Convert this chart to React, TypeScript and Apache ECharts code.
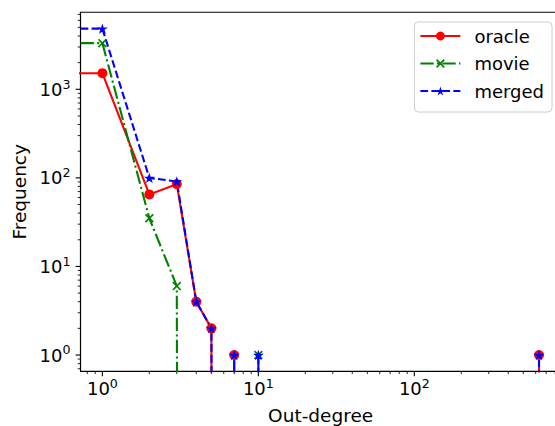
import React, { useEffect, useRef } from 'react';
import * as echarts from 'echarts';

// ---- data (degree histogram excerpt; the all-zero run 12..628 is omitted) ----
// degree 0 lies at log(0) = -inf, off the left edge; only its horizontal segment shows.
const degrees = [0, 1, 2, 3, 4, 5, 6, 7, 8, 9, 10, 11, 629, 630];
const oracleFreq = [1520, 1520, 65, 85, 4, 2, 0, 1, 0, 0, 0, 0, 0, 1];
const movieFreq = [3320, 3320, 35, 6, 0, 0, 0, 0, 0, 0, 1, 0, 0, 0];
const mergedFreq = [4840, 4840, 100, 91, 4, 2, 0, 1, 0, 0, 1, 0, 0, 1];
const seriesNames = ['oracle', 'movie', 'merged'];

const xMajorTicks = [1, 10, 100];
const xMinorTicks = [0.8, 0.9, 2, 3, 4, 5, 6, 7, 8, 9, 20, 30, 40, 50, 60, 70, 80, 90, 200, 300, 400, 500, 600, 700, 800];
const yMajorTicks = [1, 10, 100, 1000];
const yMinorTicks = [0.7, 0.8, 0.9, 2, 3, 4, 5, 6, 7, 8, 9, 20, 30, 40, 50, 60, 70, 80, 90, 200, 300, 400, 500, 600, 700, 800, 900, 2000, 3000, 4000, 5000, 6000, 7000];
const xLimits = [0.724, 869];
const yLimits = [0.655, 7400];
const xTitle = 'Out-degree';
const yTitle = 'Frequency';

const FONT = 'DejaVu Sans';
const TINY = 1e-100; // stands in for log(0): clipped far outside the plot

const starPts: string[] = [];
for (let i = 0; i < 10; i++) {
  const r = i % 2 === 0 ? 10 : 3.82;
  const a = -Math.PI / 2 + (i * Math.PI) / 5;
  starPts.push(`${(10 + r * Math.cos(a)).toFixed(3)} ${(10 + r * Math.sin(a)).toFixed(3)}`);
}
const STAR = 'path://M' + starPts.join(' L') + ' Z';
const CROSS = 'path://M0 1.3 L1.3 0 L5 3.7 L8.7 0 L10 1.3 L6.3 5 L10 8.7 L8.7 10 L5 6.3 L1.3 10 L0 8.7 L3.7 5 Z';

function toData(vals: number[]) {
  return degrees.map((d, i) => {
    const x = d > 0 ? d : TINY;
    const y = vals[i] > 0 ? vals[i] : TINY;
    return d > 0 && vals[i] > 0 ? { value: [x, y] } : { value: [x, y], symbolSize: 0 };
  });
}

function powLabel(v: number) {
  const e = Math.log10(v);
  if (Math.abs(e - Math.round(e)) > 1e-6) return '';
  return `{b|10}{s|${Math.round(e)}}`;
}

const richLabel = {
  b: { fontFamily: FONT, fontSize: 18, lineHeight: 18, color: '#000', verticalAlign: 'bottom' },
  s: { fontFamily: FONT, fontSize: 12.6, lineHeight: 12.6, color: '#000', verticalAlign: 'bottom', padding: [0, 0, 7.6, 0] },
};

export default function App() {
  const ref = useRef<HTMLDivElement>(null);
  useEffect(() => {
    if (!ref.current) return;
    const chart = echarts.init(ref.current, null, { renderer: 'svg' });

    const xTickData = [
      ...xMajorTicks.map((v) => [v, 1, 4.9, 1.1]),
      ...xMinorTicks.map((v) => [v, 1, 2.8, 0.85]),
    ];
    const yTickData = [
      ...yMajorTicks.map((v) => [1, v, 4.9, 1.1]),
      ...yMinorTicks.map((v) => [1, v, 2.8, 0.85]),
    ];

    const option: any = {
      animation: false,
      backgroundColor: '#ffffff',
      grid: {
        left: 80.5,
        top: 12.3,
        right: -5.8,
        bottom: 54.7,
        show: true,
        borderColor: '#000',
        borderWidth: 1.1,
        backgroundColor: 'transparent',
        containLabel: false,
        outerBoundsMode: 'none',
      },
      xAxis: {
        type: 'log',
        logBase: 10,
        min: xLimits[0],
        max: xLimits[1],
        name: xTitle,
        nameLocation: 'middle',
        nameGap: 35,
        nameTextStyle: { fontFamily: FONT, fontSize: 18.5, color: '#000' },
        axisLine: { show: true, lineStyle: { color: '#000', width: 1.1 } },
        axisTick: { show: false },
        minorTick: { show: false },
        splitLine: { show: false },
        axisLabel: { margin: 8, formatter: powLabel, rich: richLabel, color: '#000' },
      },
      yAxis: {
        type: 'log',
        logBase: 10,
        min: yLimits[0],
        max: yLimits[1],
        name: yTitle,
        nameLocation: 'middle',
        nameGap: 41,
        nameTextStyle: { fontFamily: FONT, fontSize: 18.5, color: '#000' },
        axisLine: { show: true, lineStyle: { color: '#000', width: 1.1 } },
        axisTick: { show: false },
        minorTick: { show: false },
        splitLine: { show: false },
        axisLabel: { margin: 10, formatter: powLabel, rich: richLabel, color: '#000' },
      },
      legend: {
        data: seriesNames,
        orient: 'vertical',
        right: 3,
        top: 22,
        itemWidth: 40,
        itemHeight: 11,
        itemGap: 9.5,
        padding: [5, 8, 12, 5],
        backgroundColor: 'rgba(255,255,255,0.8)',
        borderColor: '#cccccc',
        borderWidth: 1,
        borderRadius: 4,
        textStyle: { fontFamily: FONT, fontSize: 18, color: '#000', padding: [0, 0, 0, 9] },
      },
      series: [
        {
          name: seriesNames[0],
          type: 'line',
          data: toData(oracleFreq),
          symbol: 'circle',
          symbolSize: 10,
          showAllSymbol: true,
          clip: true,
          lineStyle: { color: '#ff0000', width: 2.1, type: 'solid' },
          itemStyle: { color: '#ff0000', borderWidth: 0 },
          emphasis: { disabled: true },
        },
        {
          name: seriesNames[1],
          type: 'line',
          data: toData(movieFreq),
          symbol: CROSS,
          symbolSize: 9,
          symbolKeepAspect: true,
          showAllSymbol: true,
          clip: true,
          lineStyle: { color: '#008000', width: 2.1, type: [13.3, 3.3, 2.1, 3.3] },
          itemStyle: { color: '#008000', borderWidth: 0 },
          emphasis: { disabled: true },
        },
        {
          name: seriesNames[2],
          type: 'line',
          data: toData(mergedFreq),
          symbol: STAR,
          symbolSize: 11,
          symbolKeepAspect: true,
          showAllSymbol: true,
          clip: true,
          lineStyle: { color: '#0000ff', width: 2.1, type: [7.7, 3.3] },
          itemStyle: { color: '#0000ff', borderWidth: 0 },
          emphasis: { disabled: true },
        },
        {
          type: 'custom',
          silent: true,
          clip: false,
          data: xTickData,
          encode: { x: 0, y: 1 },
          renderItem: (params: any, api: any) => {
            const cs = params.coordSys;
            const x = api.coord([api.value(0), 1])[0];
            const y0 = cs.y + cs.height;
            return {
              type: 'line',
              shape: { x1: x, y1: y0, x2: x, y2: y0 + api.value(2) },
              style: { stroke: '#000', lineWidth: api.value(3) },
            };
          },
        },
        {
          type: 'custom',
          silent: true,
          clip: false,
          data: yTickData,
          encode: { x: 0, y: 1 },
          renderItem: (params: any, api: any) => {
            const cs = params.coordSys;
            const y = api.coord([1, api.value(1)])[1];
            const x0 = cs.x;
            return {
              type: 'line',
              shape: { x1: x0, y1: y, x2: x0 - api.value(2), y2: y },
              style: { stroke: '#000', lineWidth: api.value(3) },
            };
          },
        },
      ],
    };
    chart.setOption(option);
    return () => chart.dispose();
  }, []);

  return (
    <div
      ref={ref}
      style={{ position: 'fixed', left: 0, top: 0, width: 555, height: 426, background: '#fff' }}
    />
  );
}
